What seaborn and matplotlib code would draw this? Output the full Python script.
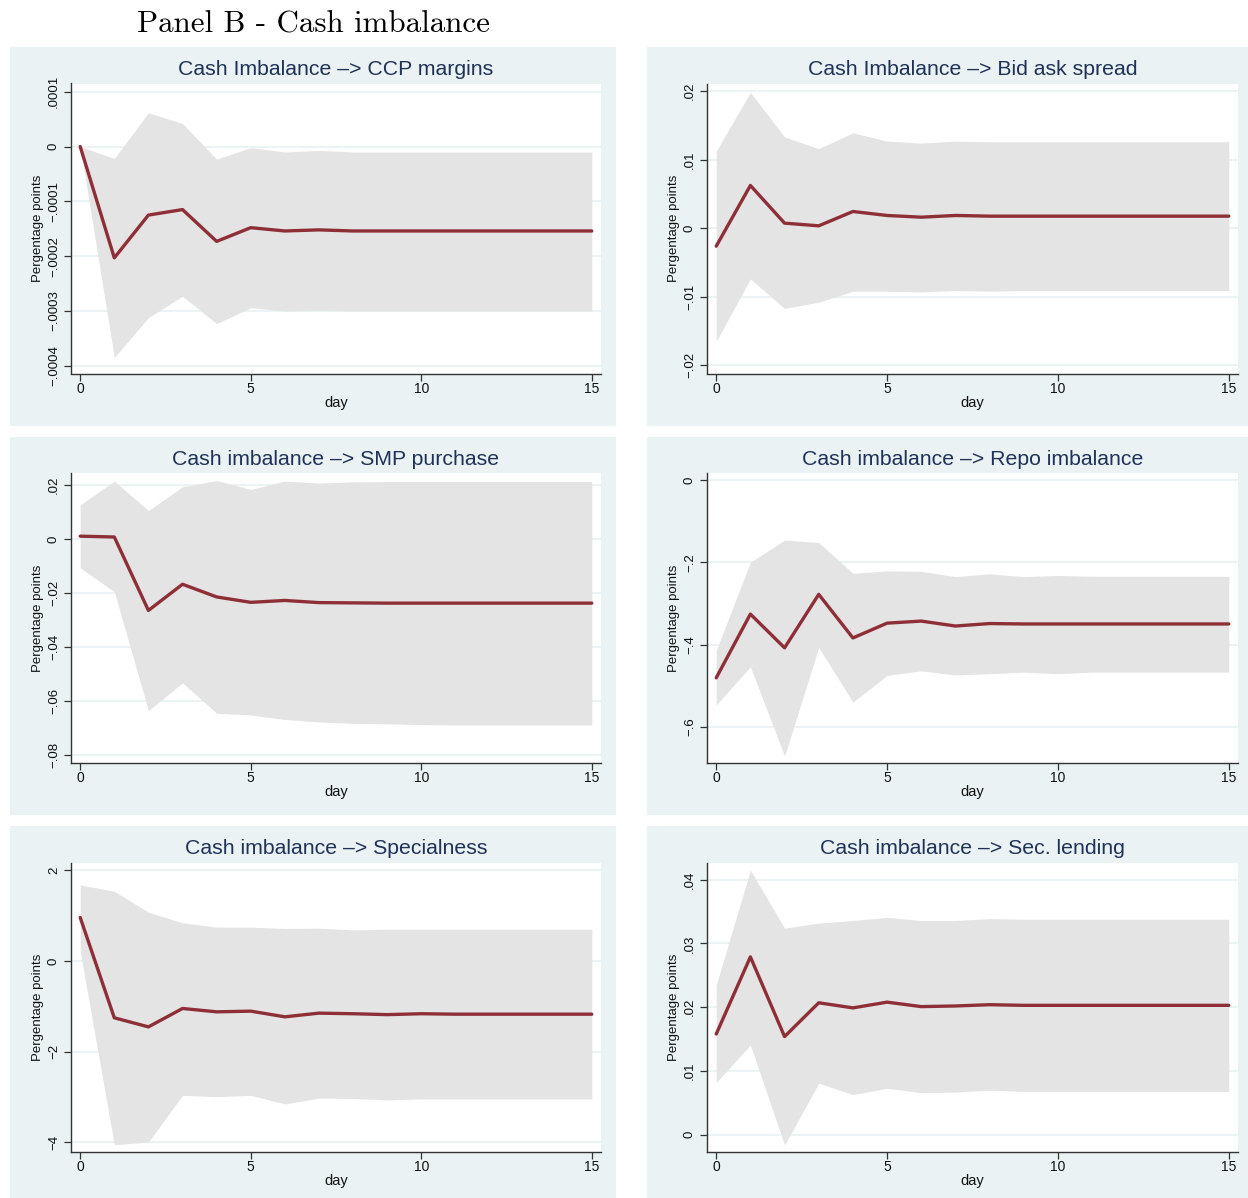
import matplotlib
matplotlib.use("Agg")
import matplotlib.pyplot as plt
from matplotlib.patches import Rectangle
import seaborn as sns

# ---------------- data ----------------
days = list(range(16))

titles = [
    "Cash Imbalance \u2013> CCP margins",
    "Cash Imbalance \u2013> Bid ask spread",
    "Cash imbalance \u2013> SMP purchase",
    "Cash imbalance \u2013> Repo imbalance",
    "Cash imbalance \u2013> Specialness",
    "Cash imbalance \u2013> Sec. lending",
]

ccp_irf = [0.0, -0.000203, -0.000125, -0.000115, -0.000173, -0.000148, -0.000154, -0.000152,
           -0.000154, -0.000154, -0.000154, -0.000154, -0.000154, -0.000154, -0.000154, -0.000154]
ccp_lo = [0.0, -0.000385, -0.000312, -0.000273, -0.000323, -0.000294, -0.000300, -0.000299,
          -0.000300, -0.000300, -0.000300, -0.000300, -0.000300, -0.000300, -0.000300, -0.000300]
ccp_hi = [0.0, -0.000022, 0.0000616, 0.000042, -0.000023, -0.000002, -0.000010, -0.000007,
          -0.000010, -0.000010, -0.000010, -0.000010, -0.000010, -0.000010, -0.000010, -0.000010]

bas_irf = [-0.00263, 0.00623, 0.00073, 0.00034, 0.00243, 0.00185, 0.00160, 0.00185,
           0.00175, 0.00175, 0.00175, 0.00175, 0.00175, 0.00175, 0.00175, 0.00175]
bas_lo = [-0.0165, -0.0074, -0.0117, -0.0108, -0.0092, -0.0092, -0.0093, -0.0091,
          -0.0092, -0.0091, -0.0091, -0.0091, -0.0091, -0.0091, -0.0091, -0.0091]
bas_hi = [0.01124, 0.0198, 0.0133, 0.0116, 0.0139, 0.0127, 0.0124, 0.0127,
          0.0126, 0.0126, 0.0126, 0.0126, 0.0126, 0.0126, 0.0126, 0.0126]

smp_irf = [0.0010, 0.0007, -0.0265, -0.0168, -0.0215, -0.0235, -0.0228, -0.0236,
           -0.0237, -0.0238, -0.0238, -0.0238, -0.0238, -0.0238, -0.0238, -0.0238]
smp_lo = [-0.0107, -0.0196, -0.0636, -0.0533, -0.0646, -0.0652, -0.0669, -0.0678,
          -0.0683, -0.0685, -0.0688, -0.0689, -0.0689, -0.0689, -0.0689, -0.0689]
smp_hi = [0.0126, 0.0214, 0.0105, 0.0193, 0.0216, 0.0183, 0.0214, 0.0207,
          0.0211, 0.0212, 0.0212, 0.0212, 0.0212, 0.0212, 0.0212, 0.0212]

repo_irf = [-0.481, -0.326, -0.408, -0.278, -0.384, -0.348, -0.343, -0.355,
            -0.349, -0.350, -0.350, -0.350, -0.350, -0.350, -0.350, -0.350]
repo_lo = [-0.547, -0.454, -0.671, -0.407, -0.540, -0.475, -0.464, -0.474,
           -0.471, -0.467, -0.471, -0.467, -0.467, -0.467, -0.467, -0.467]
repo_hi = [-0.414, -0.200, -0.146, -0.152, -0.227, -0.221, -0.222, -0.235,
           -0.228, -0.235, -0.232, -0.234, -0.234, -0.234, -0.234, -0.234]

spec_irf = [0.963, -1.25, -1.45, -1.044, -1.118, -1.103, -1.228, -1.147,
            -1.16, -1.18, -1.16, -1.17, -1.17, -1.17, -1.17, -1.17]
spec_lo = [0.22, -4.05, -3.99, -2.96, -2.99, -2.96, -3.15, -3.02,
           -3.03, -3.06, -3.04, -3.04, -3.04, -3.04, -3.04, -3.04]
spec_hi = [1.68, 1.54, 1.08, 0.846, 0.75, 0.75, 0.72, 0.728,
           0.69, 0.706, 0.706, 0.706, 0.706, 0.706, 0.706, 0.706]

sec_irf = [0.0158, 0.0279, 0.0154, 0.0207, 0.0199, 0.0208, 0.0201, 0.0202,
           0.0204, 0.0203, 0.0203, 0.0203, 0.0203, 0.0203, 0.0203, 0.0203]
sec_lo = [0.0082, 0.0141, -0.0016, 0.0081, 0.0063, 0.0073, 0.0066, 0.0067,
          0.0070, 0.0068, 0.0068, 0.0068, 0.0068, 0.0068, 0.0068, 0.0068]
sec_hi = [0.0235, 0.0415, 0.0324, 0.0332, 0.0336, 0.0341, 0.0336, 0.0336,
          0.0339, 0.0338, 0.0338, 0.0338, 0.0338, 0.0338, 0.0338, 0.0338]

irfs = [ccp_irf, bas_irf, smp_irf, repo_irf, spec_irf, sec_irf]
lows = [ccp_lo, bas_lo, smp_lo, repo_lo, spec_lo, sec_lo]
highs = [ccp_hi, bas_hi, smp_hi, repo_hi, spec_hi, sec_hi]

yticks = [
    [0.0001, 0, -0.0001, -0.0002, -0.0003, -0.0004],
    [0.02, 0.01, 0, -0.01, -0.02],
    [0.02, 0, -0.02, -0.04, -0.06, -0.08],
    [0, -0.2, -0.4, -0.6],
    [2, 0, -2, -4],
    [0.04, 0.03, 0.02, 0.01, 0],
]
yticklabels = [
    [".0001", "0", "\u2212.0001", "\u2212.0002", "\u2212.0003", "\u2212.0004"],
    [".02", ".01", "0", "\u2212.01", "\u2212.02"],
    [".02", "0", "\u2212.02", "\u2212.04", "\u2212.06", "\u2212.08"],
    ["0", "\u2212.2", "\u2212.4", "\u2212.6"],
    ["2", "0", "\u22122", "\u22124"],
    [".04", ".03", ".02", ".01", "0"],
]
ylims = [
    (-0.000414, 0.000115),
    (-0.0212, 0.0211),
    (-0.083, 0.0244),
    (-0.688, 0.017),
    (-4.21, 2.176),
    (-0.0027, 0.0427),
]
xticks = [0, 5, 10, 15]

# ---------------- style ----------------
sns.set_theme(style="white")
plt.rcParams["font.family"] = ["Liberation Sans", "DejaVu Sans"]

W, H = 1248, 1198
fig = plt.figure(figsize=(W / 100, H / 100), dpi=100)
fig.patch.set_facecolor("white")

BG = "#EAF2F3"
LINE = "#8E2F38"
BAND = "#E4E4E4"
TITLE_C = "#1F3257"

# panel boxes (px): (x0, x1, y0, y1)
cols_box = [(10, 616), (647, 1248)]
rows_box = [(47, 425.5), (436.5, 814.5), (826, 1198)]
cols_plot = [(71, 601), (707, 1238)]
rows_plot = [(83.5, 373.5), (473, 763), (862.5, 1152)]


def fx(x):
    return x / W


def fy(y):
    return 1 - y / H


for i in range(6):
    r, c = divmod(i, 2)
    bx0, bx1 = cols_box[c]
    by0, by1 = rows_box[r]
    fig.add_artist(Rectangle((fx(bx0), fy(by1)), fx(bx1) - fx(bx0), fy(by0) - fy(by1),
                             transform=fig.transFigure, facecolor=BG, edgecolor="none", zorder=0))
    px0, px1 = cols_plot[c]
    py0, py1 = rows_plot[r]
    ax = fig.add_axes([fx(px0), fy(py1), fx(px1) - fx(px0), fy(py0) - fy(py1)])
    ax.set_facecolor("white")
    ax.fill_between(days, lows[i], highs[i], color=BAND, linewidth=0, zorder=1)
    sns.lineplot(x=days, y=irfs[i], ax=ax, color=LINE, linewidth=2.4, zorder=3)
    ax.set_xlim(-0.27, 15.27)
    ax.set_ylim(*ylims[i])
    ax.set_xticks(xticks)
    ax.set_xticklabels([str(t) for t in xticks], fontsize=10)
    ax.set_yticks(yticks[i])
    ax.set_yticklabels(yticklabels[i], fontsize=9.5, rotation=90, va="center")
    for t in yticks[i]:
        ax.axhline(t, color=BG, linewidth=1.3, zorder=0.5)
    ax.grid(False)
    for s in ["top", "right"]:
        ax.spines[s].set_visible(False)
    for s in ["left", "bottom"]:
        ax.spines[s].set_color("#333333")
        ax.spines[s].set_linewidth(1.0)
    ax.tick_params(axis="both", which="major", direction="out", length=5, width=0.9,
                   color="#333333", labelcolor="#111111", left=True, bottom=True, pad=3)
    ax.tick_params(axis="x", pad=1)
    ax.set_xlabel("day", fontsize=10.5, color="#111111", labelpad=0)
    ax.set_ylabel("Pergentage points", fontsize=9.5, color="#111111", labelpad=3)
    ax.set_title(titles[i], fontsize=15.3, color=TITLE_C, pad=6)

fig.text(137 / W, fy(25), "Panel B - Cash imbalance", fontsize=22.3,
         family=["cmr10", "DejaVu Serif"], va="center", ha="left", color="black")

fig.savefig("out.png", dpi=100, facecolor="white")
